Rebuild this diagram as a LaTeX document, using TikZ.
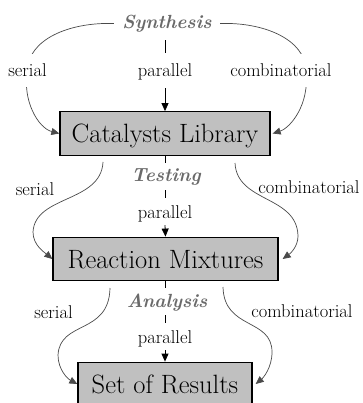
\documentclass[tikz,border=0pt]{standalone}
\usepackage{fontspec}
\usetikzlibrary{arrows.meta}
\pgfdeclarelayer{bg}
\pgfsetlayers{bg,main}
\definecolor{labgray}{HTML}{6A6A6A}
\definecolor{curvegray}{HTML}{4A4A4A}
\definecolor{boxgray}{HTML}{C0C0C0}
\begin{document}
\begin{tikzpicture}[x=1pt,y=-1pt,
  stagebox/.style={draw=black, line width=1.3pt, fill=boxgray,
    font=\fontsize{26.5}{26.5}\selectfont, minimum height=43.5pt,
    inner sep=0pt, text height=18pt, text depth=0pt},
  phaselab/.style={font=\fontsize{19}{19}\selectfont\bfseries\itshape,
    text=labgray, fill=white, anchor=base, inner xsep=6pt, inner ysep=3pt,
    text height=16pt, text depth=5pt},
  smalllab/.style={font=\fontsize{18.5}{18.5}\selectfont, anchor=base, inner sep=2pt},
  midlab/.style={smalllab, fill=white, inner ysep=3pt, text height=17pt, text depth=4pt},
  flowline/.style={draw=black, line width=0.8pt},
  arrowtip/.style={-{Triangle[length=8pt,width=7pt]}},
  curvyline/.style={draw=curvegray, line width=0.7pt}
]
\useasboundingbox (0,0) rectangle (362,403);
% ---- level 1
\node[phaselab, inner xsep=8pt, inner ysep=6pt] (syn) at (167,29) {Synthesis};
\node[smalllab, fill=white, inner ysep=10pt] (ser1) at (27.5,77) {serial};
\node[midlab, inner ysep=7pt] (par1) at (165,77) {parallel};
\node[smalllab, fill=white, inner ysep=10pt] (com1) at (281,77) {combinatorial};
\node[stagebox, minimum width=210pt] (box1) at (165,133.5) {Catalysts Library};
% ---- level 2
\node[phaselab] (tst) at (166,182) {Testing};
\node[smalllab] (ser2) at (35,195) {serial};
\node[midlab] (par2) at (165,218) {parallel};
\node[smalllab] (com2) at (309,193) {combinatorial};
\node[stagebox, minimum width=225pt] (box2) at (165.5,259) {Reaction Mixtures};
% ---- level 3
\node[phaselab] (ana) at (167,307) {Analysis};
\node[smalllab] (ser3) at (53.5,318) {serial};
\node[midlab] (par3) at (165,343) {parallel};
\node[smalllab] (com3) at (302,317) {combinatorial};
\node[stagebox, minimum width=174pt] (box3) at (165,384) {Set of Results};
% ---- vertical flows
\draw[flowline] (par1.north |- syn.south) -- (par1.north);
\draw[flowline, arrowtip] (par1.south) -- (box1.north);
\draw[flowline] (box1.south) -- (box1.south |- tst.north);
\draw[flowline] (box1.south |- tst.south) -- (par2.north);
\draw[flowline, arrowtip] (par2.south) -- (box2.north);
\draw[flowline] (par3.north |- box2.south) -- (par3.north |- ana.north);
\draw[flowline] (par3.north |- ana.south) -- (par3.north);
\draw[flowline, arrowtip] (par3.south) -- (box3.north);
% ---- curved flows
\coordinate (cr) at (306,70);
\coordinate (tl0) at (103,162);
\coordinate (tl1) at (33,232);
\coordinate (tr0) at (235,163);
\coordinate (tr1) at (298,236);
\coordinate (al0) at (110,288);
\coordinate (al1) at (58,355);
\coordinate (ar0) at (223,287);
\coordinate (ar1) at (272,352);
\begin{pgfonlayer}{bg}
\draw[curvyline, arrowtip] (syn.west) .. controls (68,22) and (28,40) .. (ser1.center)
  .. controls (22,100) and (38,128) .. (box1.west);
\draw[curvyline, arrowtip] (syn.east) .. controls (265,22) and (305,40) .. (cr)
  .. controls (310,105) and (290,128) .. ([xshift=2pt]box1.east);
\draw[curvyline, arrowtip] (tl0) .. controls (101,203) and (35,195) .. (tl1)
  .. controls (33,245) and (44,252) .. (box2.west);
\draw[curvyline, arrowtip] (tr0) .. controls (237,203) and (297,195) .. (tr1)
  .. controls (298,246) and (291,253) .. ([xshift=4pt]box2.east);
\draw[curvyline, arrowtip] (al0) .. controls (109,335) and (60,320) .. (al1)
  .. controls (58,370) and (68,379) .. (box3.west);
\draw[curvyline, arrowtip] (ar0) .. controls (224,330) and (272,318) .. (ar1)
  .. controls (272,368) and (263,378) .. ([xshift=3pt]box3.east);
\end{pgfonlayer}
\end{tikzpicture}
\end{document}
